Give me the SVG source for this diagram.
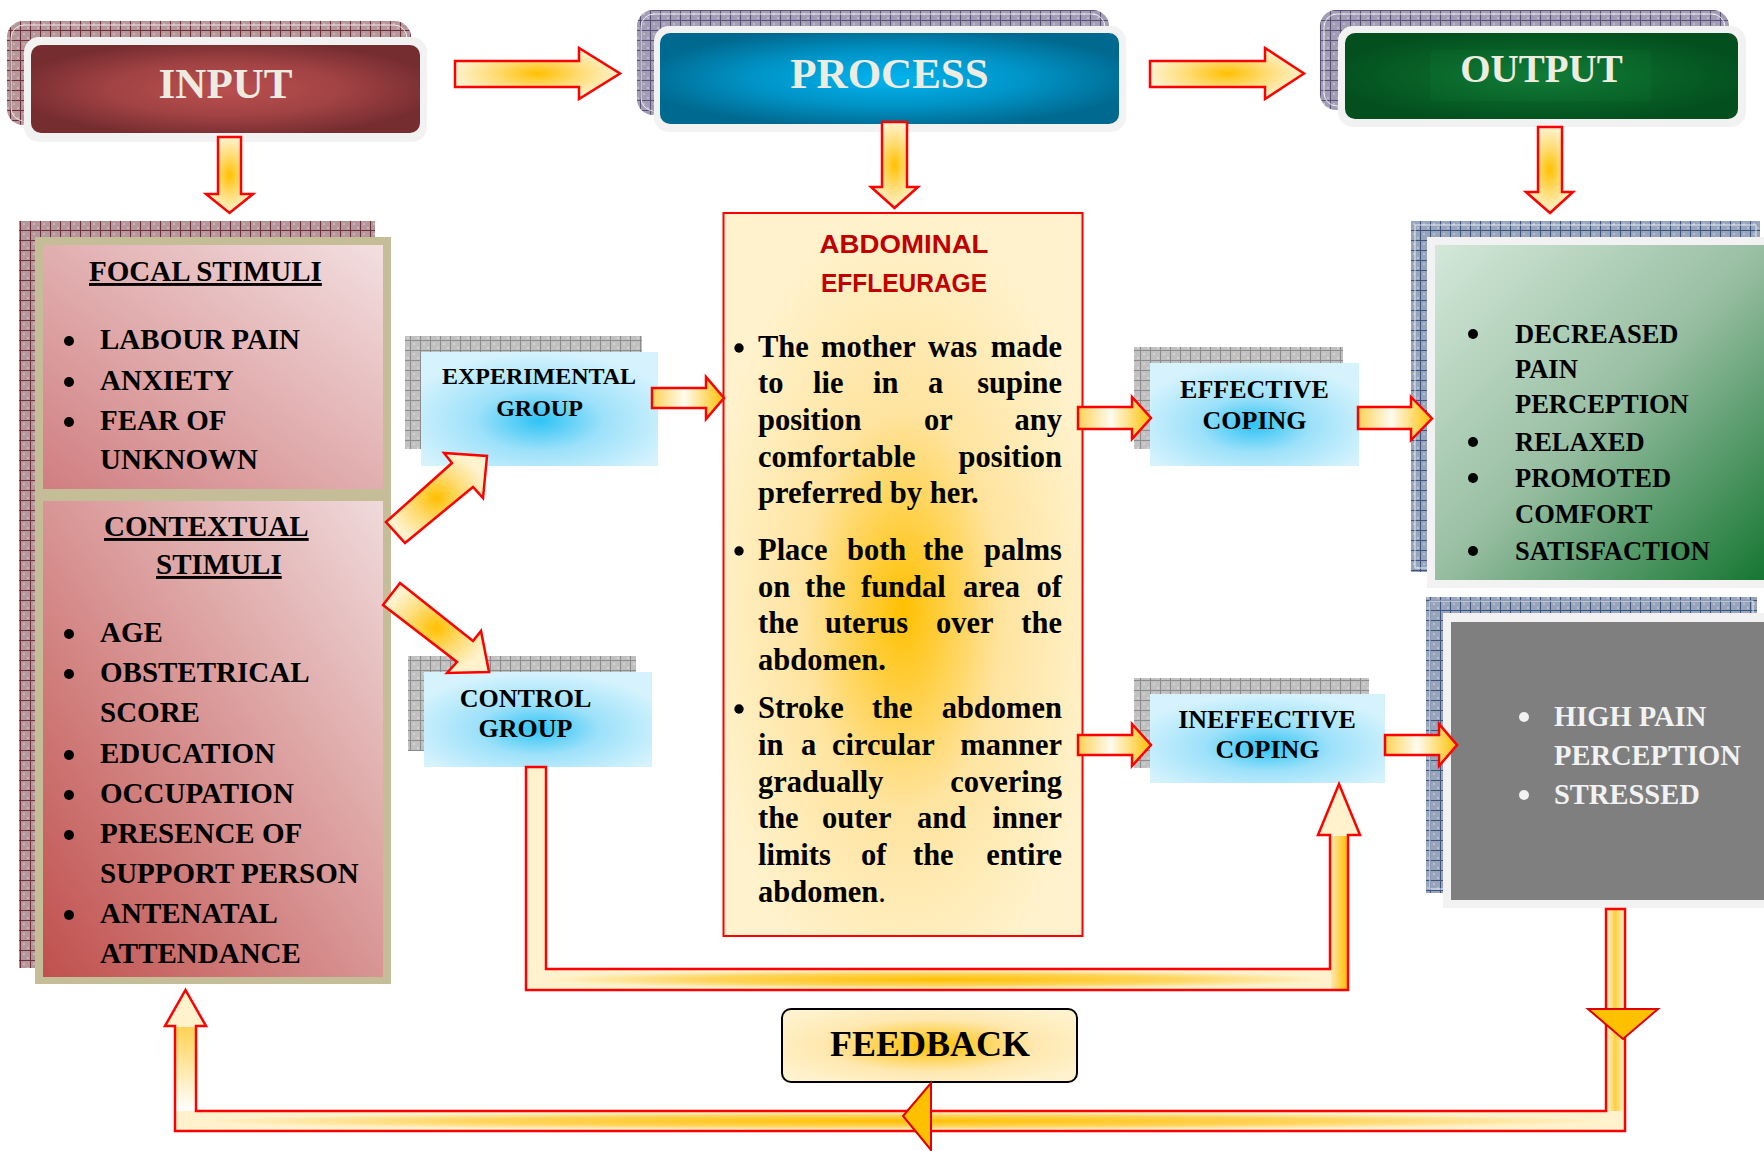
<svg xmlns="http://www.w3.org/2000/svg" width="1764" height="1151" viewBox="0 0 1764 1151">
<style>
.hdr{font-family:'Liberation Serif','Times New Roman',serif;font-weight:bold;fill:#EEECE1;text-anchor:middle}
.t{font-family:'Liberation Serif','Times New Roman',serif;font-weight:bold;fill:#000}
.st{font-size:29px}
.og{font-size:26.5px}
.gr{font-size:28.5px;fill:#F2F2F2}
.ab{font-size:30.5px}
.e{text-anchor:end}
.m{text-anchor:middle}
.arr{stroke:#FF0000;stroke-width:2.5;stroke-linejoin:miter}
.frame{fill:#F2F2F2}
.sh{stroke:#FFFFFF;stroke-width:1;fill:none;opacity:.8}
</style>
<defs>
<pattern id="pRed" width="10" height="10" patternUnits="userSpaceOnUse"><rect width="10" height="10" fill="#B4979B"/><rect x="3" y="3" width="2" height="2" fill="#C9B3B5"/><rect x="7" y="7" width="2" height="2" fill="#C9B3B5"/><path d="M0 0.5H10M0.5 0V10" stroke="#6E3038" stroke-width="1"/></pattern>
<pattern id="pPur" width="10" height="10" patternUnits="userSpaceOnUse"><rect width="10" height="10" fill="#A29CB4"/><rect x="3" y="3" width="2" height="2" fill="#BDB8CA"/><rect x="7" y="7" width="2" height="2" fill="#BDB8CA"/><path d="M0 0.5H10M0.5 0V10" stroke="#5B5375" stroke-width="1"/></pattern>
<pattern id="pGry" width="10" height="10" patternUnits="userSpaceOnUse"><rect width="10" height="10" fill="#C0C0C0"/><rect x="3" y="3" width="2" height="2" fill="#D2D2D2"/><rect x="7" y="7" width="2" height="2" fill="#D2D2D2"/><path d="M0 0.5H10M0.5 0V10" stroke="#8C8C8C" stroke-width="1"/></pattern>
<pattern id="pBlu" width="10" height="10" patternUnits="userSpaceOnUse"><rect width="10" height="10" fill="#98A4B9"/><rect x="3" y="3" width="2" height="2" fill="#B5BECD"/><rect x="7" y="7" width="2" height="2" fill="#B5BECD"/><path d="M0 0.5H10M0.5 0V10" stroke="#3E5580" stroke-width="1"/></pattern>
<radialGradient id="gInput" cx=".5" cy=".5" r=".55"><stop offset="0" stop-color="#BA504E"/><stop offset=".55" stop-color="#A14244"/><stop offset="1" stop-color="#762D30"/></radialGradient>
<radialGradient id="gProc" cx=".5" cy=".5" r=".55"><stop offset="0" stop-color="#00B4F0"/><stop offset=".55" stop-color="#0093C6"/><stop offset="1" stop-color="#00698F"/></radialGradient>
<radialGradient id="gOut" cx=".5" cy=".5" r=".55"><stop offset="0" stop-color="#107A36"/><stop offset=".55" stop-color="#086127"/><stop offset="1" stop-color="#034F1E"/></radialGradient>
<radialGradient id="gArr" cx=".5" cy=".5" r=".5"><stop offset="0" stop-color="#FFC000"/><stop offset=".5" stop-color="#FFDB70"/><stop offset="1" stop-color="#FFF2CC"/></radialGradient>
<linearGradient id="gSm" x1="0" y1="0" x2="1" y2="0"><stop offset="0" stop-color="#FFD255"/><stop offset=".45" stop-color="#FFFBF0"/><stop offset="1" stop-color="#FFC000"/></linearGradient>
<radialGradient id="gBlue" cx=".5" cy=".6" r=".6"><stop offset="0" stop-color="#2EC3F5"/><stop offset=".45" stop-color="#9DE1FA"/><stop offset="1" stop-color="#D6F3FD"/></radialGradient>
<radialGradient id="gAbd" cx=".5" cy=".55" r=".55"><stop offset="0" stop-color="#FFC000"/><stop offset=".5" stop-color="#FFE4A0"/><stop offset="1" stop-color="#FFF2CC"/></radialGradient>
<radialGradient id="gFb" cx=".5" cy=".5" r=".6"><stop offset="0" stop-color="#FFC000"/><stop offset=".6" stop-color="#FFE8B0"/><stop offset="1" stop-color="#FFF2CC"/></radialGradient>
<radialGradient id="gBar" cx=".5" cy=".5" r=".5"><stop offset="0" stop-color="#FFC000"/><stop offset=".6" stop-color="#FFD45C"/><stop offset="1" stop-color="#FFF2CC"/></radialGradient>
<linearGradient id="gLegR" x1="0" y1="0" x2="1" y2="0"><stop offset="0" stop-color="#FFE8B0"/><stop offset="1" stop-color="#FFC000"/></linearGradient>
<linearGradient id="gLegC" x1="0" y1="0" x2="1" y2="0"><stop offset="0" stop-color="#FFF2CC"/><stop offset=".5" stop-color="#FFCF40"/><stop offset="1" stop-color="#FFF2CC"/></linearGradient>
<linearGradient id="gLegL" x1="0" y1="0" x2="0" y2="1"><stop offset="0" stop-color="#FFD255"/><stop offset="1" stop-color="#FFFFFF"/></linearGradient>
<linearGradient id="gGreen" x1="0" y1="0" x2="1" y2="1"><stop offset="0" stop-color="#D3E8D9"/><stop offset=".5" stop-color="#98BEA2"/><stop offset="1" stop-color="#137530"/></linearGradient>
<linearGradient id="gFocal" x1="0" y1="1" x2="1" y2="0"><stop offset="0" stop-color="#D07E80"/><stop offset="1" stop-color="#F3DFE0"/></linearGradient>
<linearGradient id="gCtx" x1="0" y1="1" x2="1" y2="0"><stop offset="0" stop-color="#C0504D"/><stop offset="1" stop-color="#F0DADB"/></linearGradient>
</defs>
<rect width="1764" height="1151" fill="#FFFFFF"/>

<g id="input">
<rect x="7" y="21" width="404" height="104" rx="16" fill="url(#pRed)"/>
<rect x="11" y="25" width="396" height="96" rx="13" class="sh"/>
<rect x="24" y="37" width="403" height="105" rx="15" class="frame"/>
<rect x="31" y="45" width="389" height="88" rx="10" fill="url(#gInput)"/>
<text class="hdr" x="225.5" y="98" font-size="43">INPUT</text>
</g>

<g id="process">
<rect x="637" y="10" width="472" height="105" rx="16" fill="url(#pPur)"/>
<rect x="641" y="14" width="464" height="97" rx="13" class="sh"/>
<rect x="654" y="26" width="472" height="106" rx="15" class="frame"/>
<rect x="660" y="33" width="459" height="91" rx="10" fill="url(#gProc)"/>
<text class="hdr" x="889.5" y="88" font-size="43">PROCESS</text>
</g>

<g id="output">
<rect x="1320" y="10" width="409" height="100" rx="16" fill="url(#pPur)"/>
<rect x="1324" y="14" width="401" height="92" rx="13" class="sh"/>
<rect x="1338" y="26" width="408" height="101" rx="15" class="frame"/>
<rect x="1345" y="33" width="393" height="86" rx="10" fill="url(#gOut)"/>
<rect x="1430" y="50" width="221" height="51" rx="4" fill="#1A8A42" opacity=".12"/>
<text class="hdr" x="1541.5" y="82" font-size="39">OUTPUT</text>
</g>

<g id="stimuli">
<rect x="19" y="221" width="356" height="747" fill="url(#pRed)"/>
<rect x="35" y="237" width="356" height="747" fill="#C4BD97"/>
<rect x="43" y="245" width="340" height="244" fill="url(#gFocal)"/>
<rect x="43" y="501" width="340" height="476" fill="url(#gCtx)"/>
<text class="t st" x="89" y="281" text-decoration="underline">FOCAL STIMULI</text>
<g fill="#000"><circle cx="69" cy="341" r="5"/><circle cx="69" cy="382" r="5"/><circle cx="69" cy="422" r="5"/>
<circle cx="69" cy="634" r="5"/><circle cx="69" cy="674" r="5"/><circle cx="69" cy="755" r="5"/><circle cx="69" cy="795" r="5"/><circle cx="69" cy="835" r="5"/><circle cx="69" cy="915" r="5"/></g>
<text class="t st" x="100" y="349">LABOUR PAIN</text>
<text class="t st" x="100" y="390">ANXIETY</text>
<text class="t st" x="100" y="430">FEAR OF</text>
<text class="t st" x="100" y="469">UNKNOWN</text>
<text class="t st" x="104" y="536" text-decoration="underline">CONTEXTUAL</text>
<text class="t st" x="156" y="574" text-decoration="underline">STIMULI</text>
<text class="t st" x="100" y="642">AGE</text>
<text class="t st" x="100" y="682">OBSTETRICAL</text>
<text class="t st" x="100" y="722">SCORE</text>
<text class="t st" x="100" y="763">EDUCATION</text>
<text class="t st" x="100" y="803">OCCUPATION</text>
<text class="t st" x="100" y="843">PRESENCE OF</text>
<text class="t st" x="100" y="883">SUPPORT PERSON</text>
<text class="t st" x="100" y="923">ANTENATAL</text>
<text class="t st" x="100" y="963">ATTENDANCE</text>
</g>

<g id="experimental">
<rect x="405" y="336" width="237" height="113" fill="url(#pGry)"/>
<rect x="421" y="352" width="237" height="114" fill="url(#gBlue)"/>
<text class="t m" x="539" y="384" font-size="24">EXPERIMENTAL</text>
<text class="t m" x="539.5" y="416" font-size="24">GROUP</text>
</g>

<g id="control">
<rect x="408" y="656" width="228" height="95" fill="url(#pGry)"/>
<rect x="424" y="672" width="228" height="95" fill="url(#gBlue)"/>
<text class="t m" x="525.5" y="707" font-size="26">CONTROL</text>
<text class="t m" x="525.5" y="737" font-size="26">GROUP</text>
</g>

<g id="effleurage">
<rect x="723.5" y="213" width="359" height="723" fill="url(#gAbd)" stroke="#FF0000" stroke-width="2"/>
<text x="904" y="253" font-family="'Liberation Sans',Arial,sans-serif" font-weight="bold" font-size="26" fill="#C00000" text-anchor="middle" textLength="169" lengthAdjust="spacingAndGlyphs">ABDOMINAL</text>
<text x="904" y="292" font-family="'Liberation Sans',Arial,sans-serif" font-weight="bold" font-size="26" fill="#C00000" text-anchor="middle" textLength="166" lengthAdjust="spacingAndGlyphs">EFFLEURAGE</text>
<g fill="#000"><circle cx="739" cy="348" r="4.7"/><circle cx="739" cy="551" r="4.7"/><circle cx="739" cy="709" r="4.7"/></g>
<text class="t ab" y="357"><tspan x="758">The</tspan><tspan x="821">mother</tspan><tspan x="928">was</tspan></text><text class="t ab e" x="1062" y="357">made</text>
<text class="t ab" y="393"><tspan x="758">to</tspan><tspan x="813">lie</tspan><tspan x="873">in</tspan><tspan x="928">a</tspan></text><text class="t ab e" x="1062" y="393">supine</text>
<text class="t ab" y="430"><tspan x="758">position</tspan><tspan x="924">or</tspan></text><text class="t ab e" x="1062" y="430">any</text>
<text class="t ab" x="758" y="467">comfortable</text><text class="t ab e" x="1062" y="467">position</text>
<text class="t ab" x="758" y="503">preferred by her.</text>
<text class="t ab" y="560"><tspan x="758">Place</tspan><tspan x="847">both</tspan><tspan x="923">the</tspan></text><text class="t ab e" x="1062" y="560">palms</text>
<text class="t ab" y="597"><tspan x="758">on</tspan><tspan x="805">the</tspan><tspan x="861">fundal</tspan><tspan x="963">area</tspan></text><text class="t ab e" x="1062" y="597">of</text>
<text class="t ab" y="633"><tspan x="758">the</tspan><tspan x="825">uterus</tspan><tspan x="936">over</tspan></text><text class="t ab e" x="1062" y="633">the</text>
<text class="t ab" x="758" y="670">abdomen.</text>
<text class="t ab" y="718"><tspan x="758">Stroke</tspan><tspan x="872">the</tspan></text><text class="t ab e" x="1062" y="718">abdomen</text>
<text class="t ab" y="755"><tspan x="758">in</tspan><tspan x="801">a</tspan><tspan x="832">circular</tspan></text><text class="t ab e" x="1062" y="755">manner</text>
<text class="t ab" x="758" y="792">gradually</text><text class="t ab e" x="1062" y="792">covering</text>
<text class="t ab" y="828"><tspan x="758">the</tspan><tspan x="822">outer</tspan><tspan x="917">and</tspan></text><text class="t ab e" x="1062" y="828">inner</text>
<text class="t ab" y="865"><tspan x="758">limits</tspan><tspan x="861">of</tspan><tspan x="913">the</tspan></text><text class="t ab e" x="1062" y="865">entire</text>
<text class="t ab" x="758" y="902">abdomen<tspan font-weight="normal">.</tspan></text>
</g>

<g id="effective">
<rect x="1134" y="347" width="209" height="102" fill="url(#pGry)"/>
<rect x="1150" y="363" width="209" height="103" fill="url(#gBlue)"/>
<text class="t m" x="1254.5" y="398" font-size="26">EFFECTIVE</text>
<text class="t m" x="1254.5" y="429" font-size="26">COPING</text>
</g>

<g id="ineffective">
<rect x="1134" y="678" width="235" height="90" fill="url(#pGry)"/>
<rect x="1150" y="694" width="235" height="89" fill="url(#gBlue)"/>
<text class="t m" x="1267" y="728" font-size="26">INEFFECTIVE</text>
<text class="t m" x="1267.5" y="758" font-size="26">COPING</text>
</g>

<g id="positive-outcome">
<rect x="1411" y="221" width="349" height="351" fill="url(#pBlu)"/>
<rect x="1415" y="225" width="341" height="343" class="sh"/>
<rect x="1427" y="237" width="345" height="351" class="frame"/>
<rect x="1435" y="245" width="335" height="335" fill="url(#gGreen)"/>
<g fill="#000"><circle cx="1473" cy="334" r="5"/><circle cx="1473" cy="442" r="5"/><circle cx="1473" cy="478" r="5"/><circle cx="1473" cy="551" r="5"/></g>
<text class="t og" x="1515" y="343">DECREASED</text>
<text class="t og" x="1515" y="378">PAIN</text>
<text class="t og" x="1515" y="413">PERCEPTION</text>
<text class="t og" x="1515" y="451">RELAXED</text>
<text class="t og" x="1515" y="487">PROMOTED</text>
<text class="t og" x="1515" y="523">COMFORT</text>
<text class="t og" x="1515" y="560">SATISFACTION</text>
</g>

<g id="negative-outcome">
<rect x="1426" y="597" width="331" height="296" fill="url(#pBlu)"/>
<rect x="1430" y="601" width="323" height="288" class="sh"/>
<rect x="1443" y="613" width="330" height="295" class="frame"/>
<rect x="1451" y="622" width="320" height="278" fill="#7F7F7F"/>
<g fill="#F2F2F2"><circle cx="1524" cy="717" r="5"/><circle cx="1524" cy="795" r="5"/></g>
<text class="t gr" x="1554" y="726">HIGH PAIN</text>
<text class="t gr" x="1554" y="765">PERCEPTION</text>
<text class="t gr" x="1554" y="804">STRESSED</text>
</g>

<g id="feedback">
<rect x="782" y="1009" width="295" height="73" rx="9" fill="url(#gFb)" stroke="#000" stroke-width="2"/>
<text class="t m" x="930" y="1056" font-size="36">FEEDBACK</text>
</g>

<g id="connectors">
<path class="arr" fill="url(#gArr)" d="M455,61 H579 V48 L620,73.5 L579,99 V87 H455 Z"/>
<path class="arr" fill="url(#gArr)" d="M1150,61 H1265 V48 L1304,73.5 L1265,99 V87 H1150 Z"/>
<path class="arr" fill="url(#gArr)" d="M218,137 H241 V194 H253 L229.5,213 L206,194 H218 Z"/>
<path class="arr" fill="url(#gArr)" d="M882,122 H907 V187 H918 L894.5,208 L871,187 H882 Z"/>
<path class="arr" fill="url(#gArr)" d="M1538,127 H1562 V192 H1573 L1550,213 L1526,192 H1538 Z"/>
<path class="arr" fill="url(#gArr)" d="M386,522 L452,463 L444,453 L487,456 L483,498 L473,487 L405,543 Z"/>
<path class="arr" fill="url(#gArr)" d="M400,583 L473,641 L481,631 L489,672 L447,673 L457,662 L383,605 Z"/>
<path class="arr" fill="url(#gSm)" d="M652,388 H706 V377 L724,398 L706,419 V408 H652 Z"/>
<path class="arr" fill="url(#gSm)" d="M1078,407 H1132 V397 L1151,418 L1132,439 V429 H1078 Z"/>
<path class="arr" fill="url(#gSm)" d="M1358,407 H1411 V397 L1432,418.5 L1411,440 V429 H1358 Z"/>
<path class="arr" fill="url(#gSm)" d="M1078,735 H1132 V724 L1151,745 L1132,766 V755 H1078 Z"/>
<path class="arr" fill="url(#gSm)" d="M1385,735 H1439 V724 L1457,745 L1439,766 V755 H1385 Z"/>
<path fill="#FFF2CC" d="M526,767 V990 H1348 V835 H1360 L1339,784 L1318,835 H1330 V969 H546 V767 Z"/>
<rect x="547" y="970" width="782" height="19" fill="url(#gBar)"/>
<rect x="1331" y="836" width="16" height="153" fill="url(#gLegR)"/>
<path class="arr" fill="none" d="M526,767 V990 H1348 V835 H1360 L1339,784 L1318,835 H1330 V969 H546 V767 Z"/>
<path fill="#FFF2CC" d="M1606,909 H1625 V1131 H175 V1026 H165 L185.5,990 L206,1026 H196 V1111 H1606 Z"/>
<rect x="197" y="1112" width="1408" height="18" fill="url(#gBar)"/>
<rect x="1607" y="910" width="17" height="201" fill="url(#gLegC)"/>
<rect x="176" y="1027" width="19" height="84" fill="url(#gLegL)"/>
<path class="arr" fill="none" d="M1606,909 H1625 V1131 H175 V1026 H165 L185.5,990 L206,1026 H196 V1111 H1606 Z"/>
<path d="M1588,1009 H1658 L1623,1039 Z" fill="#FFC000" stroke="#E00000" stroke-width="2"/>
<path d="M931,1083 V1150 L903,1116 Z" fill="#FFC000" stroke="#E00000" stroke-width="2"/>
</g>
</svg>
